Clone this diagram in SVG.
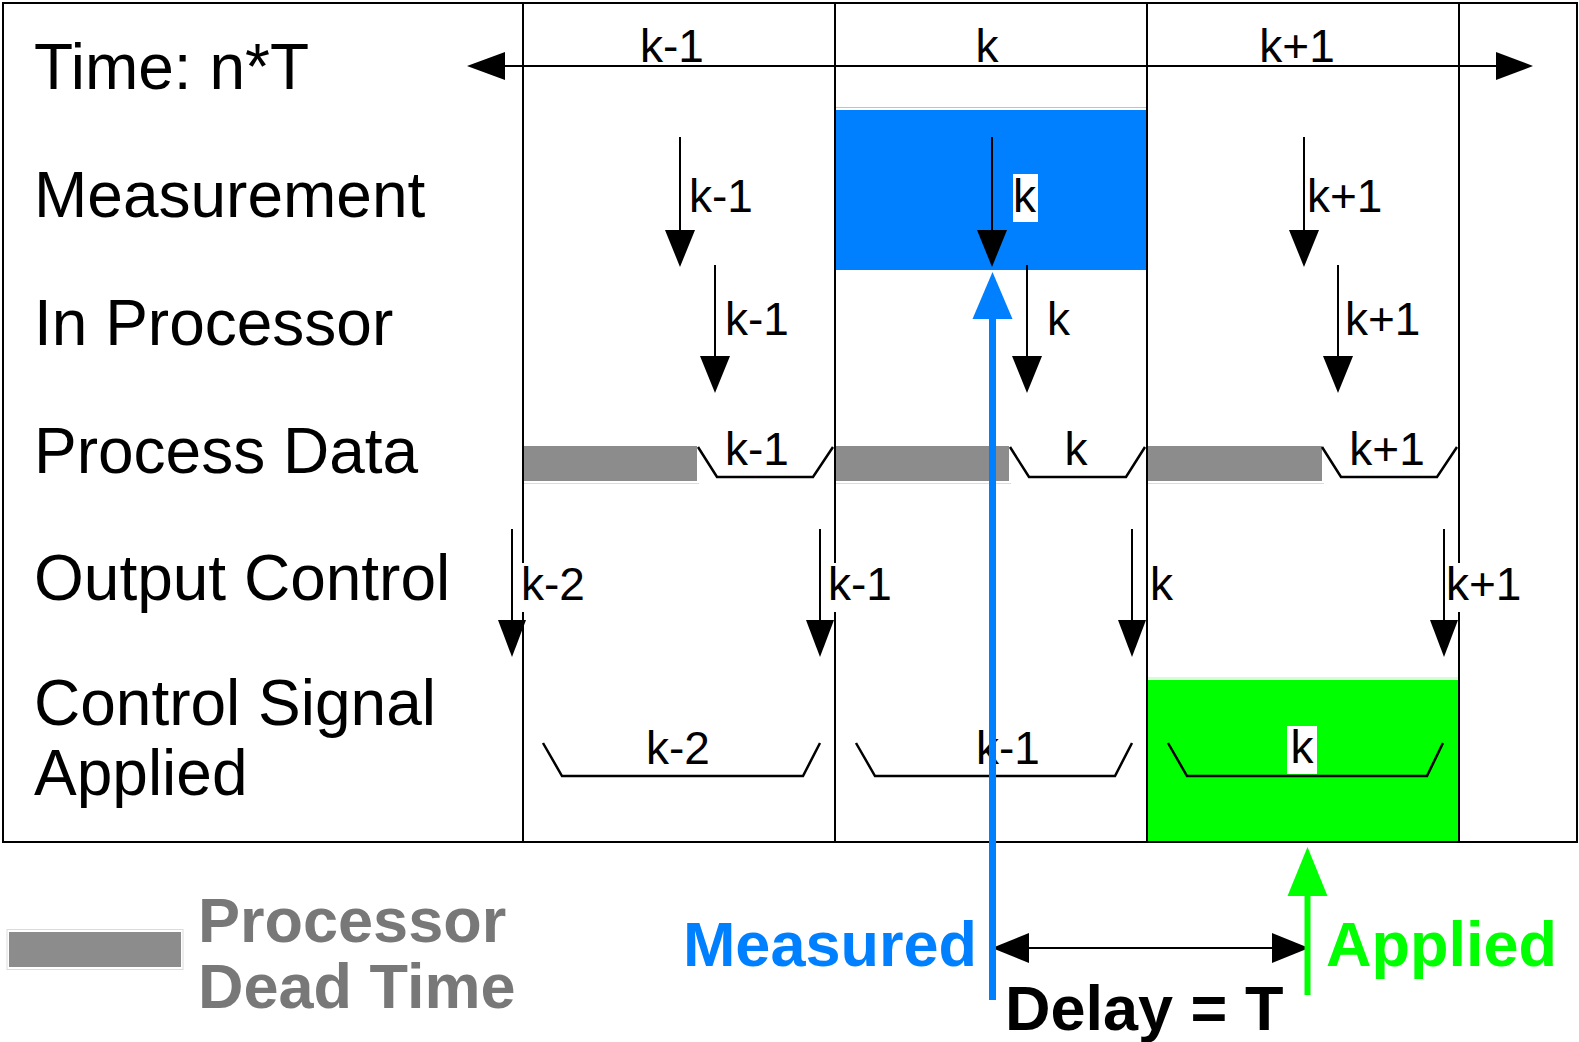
<svg xmlns="http://www.w3.org/2000/svg" width="1579" height="1042" viewBox="0 0 1579 1042">
<style>
text{font-family:"Liberation Sans",Arial,Helvetica,sans-serif}
.row{font-size:64px;fill:#000}
.lbl{font-size:46px;fill:#000}
.b{font-weight:bold;font-size:63px}
.grid{stroke:#000;stroke-width:2;fill:none}
.ln{stroke:#000;stroke-width:2;fill:none}
.br{stroke:#000;stroke-width:2.5;fill:none;stroke-linejoin:miter}
.dead{fill:#8c8c8c}
.wb{fill:#fff}
</style>
<defs>
<path id="hd" d="M-15,-37 L15,-37 L0,0 Z" fill="#000"/>
<path id="hds" d="M-14,-37 L14,-37 L0,0 Z" fill="#000"/>
</defs>
<rect x="0" y="0" width="1579" height="1042" fill="#fff"/>

<g id="highlights">
<line x1="835" y1="107.5" x2="1147" y2="107.5" stroke="#9ccaff" stroke-width="1.2"/>
<rect x="835" y="110" width="312" height="160" fill="#0080ff"/>
<line x1="1147" y1="678" x2="1459" y2="678" stroke="#a8ffa8" stroke-width="1.2"/>
<rect x="1147" y="680" width="312" height="162" fill="#00ff00"/>
</g>

<g id="process-data">
<rect class="dead" x="522" y="446" width="175" height="35"/>
<rect class="dead" x="835" y="446" width="174" height="35"/>
<rect class="dead" x="1147" y="446" width="175" height="35"/>
<g stroke="#dcdcdc" stroke-width="1.2">
<line x1="522" y1="483.5" x2="699" y2="483.5"/>
<line x1="835" y1="483.5" x2="1011" y2="483.5"/>
<line x1="1147" y1="483.5" x2="1324" y2="483.5"/>
</g>
<polyline class="br" points="698,447 717,477 813,477 833,447"/>
<polyline class="br" points="1010,447 1029,477 1126,477 1145,447"/>
<polyline class="br" points="1322,447 1341,477 1437,477 1457,447"/>
<text class="lbl" x="757" y="465" text-anchor="middle">k-1</text>
<text class="lbl" x="1076" y="465" text-anchor="middle">k</text>
<text class="lbl" x="1387" y="465" text-anchor="middle">k+1</text>
</g>

<g id="grid">
<rect class="grid" x="3" y="3" width="1574" height="839" stroke-width="2.5"/>
<line class="grid" x1="523" y1="3" x2="523" y2="842"/>
<line class="grid" x1="835" y1="3" x2="835" y2="842"/>
<line class="grid" x1="1147" y1="3" x2="1147" y2="842"/>
<line class="grid" x1="1459" y1="3" x2="1459" y2="842"/>
</g>

<g id="row-labels">
<text class="row" x="34" y="89">Time: n*T</text>
<text class="row" x="34" y="217">Measurement</text>
<text class="row" x="34" y="345">In Processor</text>
<text class="row" x="34" y="473">Process Data</text>
<text class="row" x="34" y="600">Output Control</text>
<text class="row" x="34" y="725">Control Signal</text>
<text class="row" x="34" y="795">Applied</text>
</g>

<g id="timeline">
<text class="lbl" x="672" y="62" text-anchor="middle">k-1</text>
<text class="lbl" x="987" y="62" text-anchor="middle">k</text>
<text class="lbl" x="1297" y="62" text-anchor="middle">k+1</text>
</g>

<g id="measurement">
<text class="lbl" x="689" y="212">k-1</text>
<rect class="wb" x="1013" y="174" width="25" height="48"/>
<text class="lbl" x="1013" y="212">k</text>
<text class="lbl" x="1307" y="212">k+1</text>
</g>

<g id="processor">
<text class="lbl" x="725" y="335">k-1</text>
<text class="lbl" x="1047" y="335">k</text>
<text class="lbl" x="1345" y="335">k+1</text>
</g>

<g id="output-control">
<rect class="wb" x="521" y="563" width="62" height="49"/>
<text class="lbl" x="521" y="600">k-2</text>
<rect class="wb" x="828" y="563" width="58" height="49"/>
<text class="lbl" x="828" y="600">k-1</text>
<text class="lbl" x="1150" y="600">k</text>
<rect class="wb" x="1446" y="563" width="66" height="49"/>
<text class="lbl" x="1446" y="600">k+1</text>
</g>

<g id="control-signal">
<polyline class="br" points="543,743 562,776 803,776 820,743"/>
<polyline class="br" points="856,743 875,776 1115,776 1132,743"/>
<polyline class="br" points="1168,743 1187,776 1427,776 1443,743"/>
<text class="lbl" x="678" y="764" text-anchor="middle">k-2</text>
<text class="lbl" x="1008" y="764" text-anchor="middle">k-1</text>
<rect class="wb" x="1287" y="726" width="30" height="48"/>
<text class="lbl" x="1302" y="763" text-anchor="middle">k</text>
</g>

<g id="legend">
<rect x="7" y="929.5" width="176" height="40" fill="none" stroke="#dcdcdc" stroke-width="1"/>
<rect class="dead" x="9" y="932" width="172" height="35"/>
<text class="b" x="198" y="942" fill="#787878">Processor</text>
<text class="b" x="198" y="1008" fill="#787878">Dead Time</text>
</g>

<g id="delay-labels">
<text class="b" x="977" y="966" fill="#0080ff" text-anchor="end">Measured</text>
<text class="b" x="1326" y="966" fill="#00ff00">Applied</text>
<text class="b" x="1005" y="1030" fill="#000">Delay = T</text>
</g>

<g id="connectors">
<line class="ln" x1="470" y1="66" x2="1530" y2="66"/>
<polygon points="467,66 505,52 505,80" fill="#000"/>
<polygon points="1533,66 1496,52 1496,80" fill="#000"/>

<line class="ln" x1="680" y1="137" x2="680" y2="232"/>
<use href="#hd" x="680" y="267"/>
<line class="ln" x1="992" y1="137" x2="992" y2="232"/>
<use href="#hd" x="992" y="267"/>
<line class="ln" x1="1304" y1="137" x2="1304" y2="232"/>
<use href="#hd" x="1304" y="267"/>

<line class="ln" x1="715" y1="265" x2="715" y2="358"/>
<use href="#hd" x="715" y="393"/>
<line class="ln" x1="1027" y1="265" x2="1027" y2="358"/>
<use href="#hd" x="1027" y="393"/>
<line class="ln" x1="1338" y1="265" x2="1338" y2="358"/>
<use href="#hd" x="1338" y="393"/>

<line class="ln" x1="512" y1="529" x2="512" y2="622"/>
<use href="#hds" x="512" y="657"/>
<line class="ln" x1="820" y1="529" x2="820" y2="622"/>
<use href="#hds" x="820" y="657"/>
<line class="ln" x1="1132" y1="529" x2="1132" y2="622"/>
<use href="#hds" x="1132" y="657"/>
<line class="ln" x1="1444" y1="529" x2="1444" y2="622"/>
<use href="#hds" x="1444" y="657"/>

<line class="ln" x1="1000" y1="948" x2="1300" y2="948"/>
<polygon points="992,948 1029,933 1029,963" fill="#000"/>
<polygon points="1309,948 1272,933 1272,963" fill="#000"/>

<line x1="1307.5" y1="890" x2="1307.5" y2="995" stroke="#00ff00" stroke-width="6"/>
<polygon points="1307.5,847 1287.5,896 1327.5,896" fill="#00ff00"/>

<line x1="992.5" y1="312" x2="992.5" y2="1000" stroke="#0080ff" stroke-width="7"/>
<polygon points="992.5,272 972.5,319 1012.5,319" fill="#0080ff"/>
</g>
</svg>
